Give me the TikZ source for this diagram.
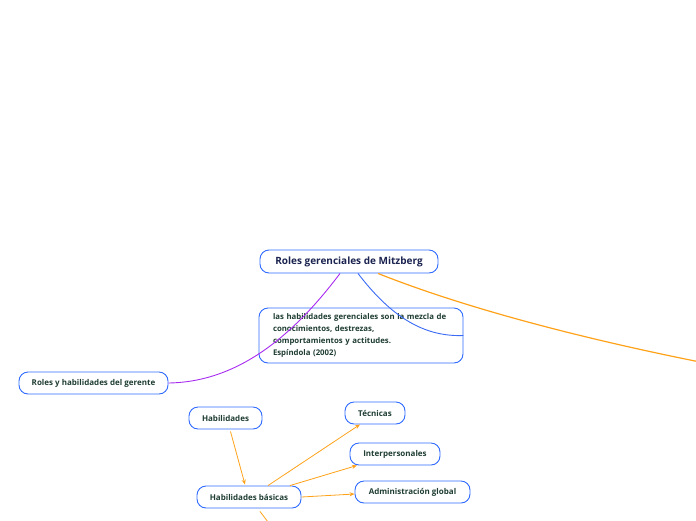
\documentclass[tikz,border=0pt]{standalone}
\usepackage{fontspec}
\setmainfont{Open Sans}
\usepackage{xcolor}
\usetikzlibrary{arrows,shapes,positioning,arrows.meta,calc}
\definecolor{boxblue}{HTML}{2F6BFF}
\definecolor{txtgreen}{HTML}{1F3D33}
\definecolor{txtnavy}{HTML}{1B2350}
\definecolor{linkorange}{HTML}{FFA21A}
\definecolor{linkpurple}{HTML}{A82BF0}
\definecolor{linkblue}{HTML}{3A6BF5}

\begin{document}
\begin{tikzpicture}[x=1pt,y=-1pt,
  topic/.style={draw=boxblue,line width=0.9pt,rounded corners=9pt,fill=white,
    font=\bfseries\fontsize{8}{9}\selectfont,text=txtgreen,
    minimum height=22pt,inner xsep=6pt},
  tip/.style={-{Stealth[length=5pt,width=4pt]}}]
\useasboundingbox (0,0) rectangle (696,520);

\node[topic,font=\bfseries\fontsize{10}{12}\selectfont,text=txtnavy,minimum width=178pt,minimum height=23pt] (root) at (349,261.5) {Roles gerenciales de Mitzberg};
\node[topic,minimum width=204pt,minimum height=55pt,text width=176pt,align=left,font=\bfseries\fontsize{7.8}{11.7}\selectfont] (quote) at (361,335.5)
  {las habilidades gerenciales son la mezcla de\\conocimientos, destrezas,\\comportamientos y actitudes.\\Espíndola (2002)};
\node[topic,minimum width=149pt] (roles) at (93.5,383) {Roles y habilidades del gerente};
\node[topic,minimum width=73pt] (hab) at (225.5,418) {Habilidades};
\node[topic,minimum width=104pt] (basic) at (249,497) {Habilidades básicas};
\node[topic,minimum width=60pt] (tec) at (375,413) {Técnicas};
\node[topic,minimum width=90pt] (inter) at (395,454) {Interpersonales};
\node[topic,minimum width=115pt] (admin) at (412.5,492) {Administración global};
\coordinate (away) at (700,362);
\coordinate (down) at (268,522);

% links from the root
\draw[linkpurple,line width=0.9pt] ($(root.south)+(-9,0)$) .. controls (290,340) and (235,382) .. (roles.east);
\draw[linkblue,line width=0.9pt] ($(root.south)+(9,0)$) .. controls (392,318) and (425,337) .. (quote.east);
\draw[linkorange,line width=1.2pt] ($(root.south)+(29,0)$) .. controls (470,310) and (590,340) .. (away);

% skills
\draw[linkorange,line width=0.8pt,tip] ($(hab.south)+(5,2)$) -- ($(basic.north)+(-4,-1)$);
\draw[linkorange,line width=0.8pt,tip] ($(basic.north)+(19,0)$) -- ($(tec.south)+(-15,0)$);
\draw[linkorange,line width=0.8pt,tip] ($(basic.north)+(41,0)$) -- ($(inter.south)+(-38,0)$);
\draw[linkorange,line width=0.8pt,tip] (basic.east) -- ($(admin.west)+(0,2)$);
\draw[linkorange,line width=0.8pt] ($(basic.south)+(11,3)$) -- (down);
\end{tikzpicture}
\end{document}
